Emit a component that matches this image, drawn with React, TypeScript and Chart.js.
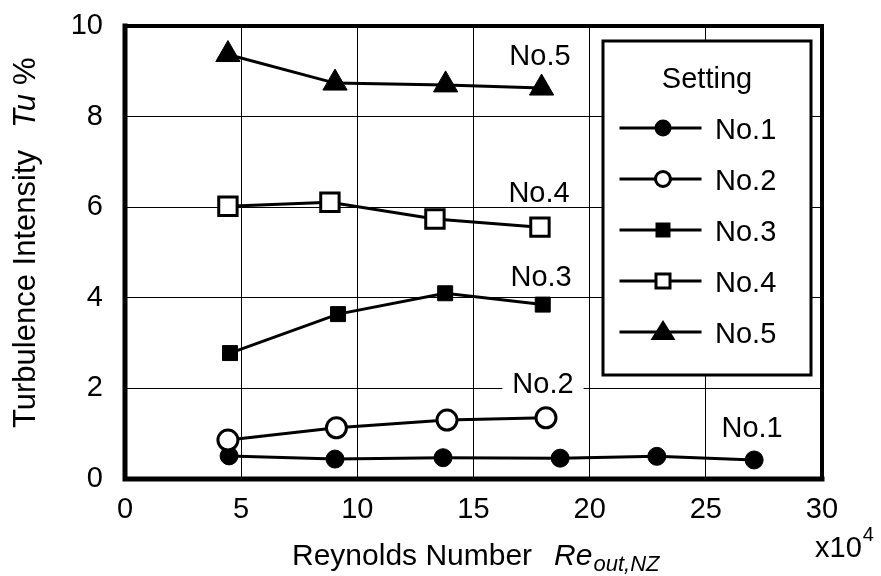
import React, { useEffect, useRef } from 'react';
import { Chart, registerables } from 'chart.js';

Chart.register(...registerables);

// ---- data (Re_out,NZ in units of 10^4, Tu in %) ----
const reNo1 = [4.48, 9.04, 13.69, 18.73, 22.89, 27.08];
const tuNo1 = [0.51, 0.44, 0.47, 0.46, 0.5, 0.42];
const reNo2 = [4.43, 9.1, 13.86, 18.12];
const tuNo2 = [0.86, 1.13, 1.3, 1.35];
const reNo3 = [4.52, 9.17, 13.78, 17.98];
const tuNo3 = [2.78, 3.64, 4.1, 3.85];
const reNo4 = [4.43, 8.82, 13.34, 17.86];
const tuNo4 = [6.02, 6.11, 5.74, 5.56];
const reNo5 = [4.43, 9.04, 13.8, 17.93];
const tuNo5 = [9.37, 8.74, 8.7, 8.63];

const seriesNames = ['No.1', 'No.2', 'No.3', 'No.4', 'No.5'];

const xTickValues = [0, 5, 10, 15, 20, 25, 30];
const yTickValues = [0, 2, 4, 6, 8, 10];

// in-plot labels anchored in data coordinates
const labelNames = ['No.1', 'No.2', 'No.3', 'No.4', 'No.5'];
const labelRe = [26.99, 17.99, 17.91, 17.82, 17.86];
const labelTu = [1.15, 2.14, 4.5, 6.34, 9.36];

const legendTitle = 'Setting';
const yTitleMain = 'Turbulence Intensity';
const yTitleSym = 'Tu';
const yTitleUnit = '%';
const xTitleMain = 'Reynolds Number';
const xTitleSym = 'Re';
const xTitleSub = 'out,NZ';
const xScaleNote = 'x10';
const xScaleExp = '4';

const FONT = "'Liberation Sans', Arial, Helvetica, sans-serif";

type Style = {
  pointStyle: any;
  radius: number;
  bg: string;
  bw: number;
};

const styles: Style[] = [
  { pointStyle: 'circle', radius: 9, bg: '#000', bw: 1 },
  { pointStyle: 'circle', radius: 10, bg: '#fff', bw: 3 },
  { pointStyle: 'rect', radius: 10.6, bg: '#000', bw: 1 },
  { pointStyle: 'rect', radius: 13, bg: '#fff', bw: 3 },
  { pointStyle: 'triangle', radius: 14, bg: '#000', bw: 1 },
];

function pair(xs: number[], ys: number[]) {
  return xs.map((x, i) => ({ x, y: ys[i] }));
}

function drawMarker(ctx: CanvasRenderingContext2D, idx: number, x: number, y: number) {
  ctx.save();
  ctx.strokeStyle = '#000';
  ctx.fillStyle = '#000';
  ctx.beginPath();
  if (idx === 0) {
    ctx.arc(x, y, 8.5, 0, Math.PI * 2);
    ctx.fill();
  } else if (idx === 1) {
    ctx.arc(x, y, 7.5, 0, Math.PI * 2);
    ctx.fillStyle = '#fff';
    ctx.fill();
    ctx.lineWidth = 3;
    ctx.stroke();
  } else if (idx === 2) {
    ctx.rect(x - 7.5, y - 7.5, 15, 15);
    ctx.fill();
  } else if (idx === 3) {
    ctx.rect(x - 7, y - 7, 14, 14);
    ctx.fillStyle = '#fff';
    ctx.fill();
    ctx.lineWidth = 3;
    ctx.stroke();
  } else {
    ctx.moveTo(x, y - 12);
    ctx.lineTo(x + 12.5, y + 8);
    ctx.lineTo(x - 12.5, y + 8);
    ctx.closePath();
    ctx.fill();
  }
  ctx.restore();
}

const decorPlugin = {
  id: 'decor',
  beforeDatasetsDraw(chart: any) {
    const ctx: CanvasRenderingContext2D = chart.ctx;
    const xs = chart.scales.x;
    const ys = chart.scales.y;
    ctx.save();
    ctx.font = `29px ${FONT}`;
    ctx.textAlign = 'center';
    ctx.textBaseline = 'alphabetic';
    labelNames.forEach((name, i) => {
      const px = xs.getPixelForValue(labelRe[i]);
      const py = ys.getPixelForValue(labelTu[i]);
      const w = ctx.measureText(name).width;
      ctx.fillStyle = '#fff';
      ctx.fillRect(px - w / 2 - 10, py - 14, w + 20, 28);
      ctx.fillStyle = '#000';
      ctx.fillText(name, px, py + 10.5);
    });
    ctx.restore();
  },
  afterDatasetsDraw(chart: any) {
    const ctx: CanvasRenderingContext2D = chart.ctx;
    const { left, right, top, bottom } = chart.chartArea;
    ctx.save();
    // frame
    ctx.strokeStyle = '#000';
    ctx.lineCap = 'square';
    ctx.lineWidth = 4;
    ctx.beginPath();
    ctx.moveTo(left, top);
    ctx.lineTo(right, top);
    ctx.lineTo(right, bottom);
    ctx.stroke();
    ctx.lineWidth = 5;
    ctx.beginPath();
    ctx.moveTo(left, top);
    ctx.lineTo(left, bottom);
    ctx.lineTo(right, bottom);
    ctx.stroke();

    // legend box
    const lx = 603, ly = 41, lw = 208, lh = 334;
    ctx.fillStyle = '#fff';
    ctx.fillRect(lx, ly, lw, lh);
    ctx.lineWidth = 3;
    ctx.strokeRect(lx, ly, lw, lh);
    ctx.fillStyle = '#000';
    ctx.font = `29px ${FONT}`;
    ctx.textAlign = 'center';
    ctx.textBaseline = 'alphabetic';
    ctx.fillText(legendTitle, 707, 88);
    ctx.textAlign = 'left';
    seriesNames.forEach((name, i) => {
      const yy = 128 + i * 51;
      ctx.lineWidth = 3;
      ctx.beginPath();
      ctx.moveTo(621, yy);
      ctx.lineTo(700, yy);
      ctx.stroke();
      drawMarker(ctx, i, 663, yy);
      ctx.fillStyle = '#000';
      ctx.fillText(name, 715, yy + 10.5);
    });

    // y-axis title (rotated)
    ctx.save();
    ctx.translate(35, 428);
    ctx.rotate(-Math.PI / 2);
    ctx.font = `31px ${FONT}`;
    ctx.textAlign = 'left';
    ctx.fillText(yTitleMain, 0, 0);
    const w1 = ctx.measureText(yTitleMain).width;
    ctx.font = `italic 31px ${FONT}`;
    ctx.fillText(yTitleSym, w1 + 22, 0);
    const w2 = ctx.measureText(yTitleSym).width;
    ctx.font = `31px ${FONT}`;
    ctx.fillText(yTitleUnit, w1 + 22 + w2 + 9, 0);
    ctx.restore();

    // x-axis title
    ctx.font = `30px ${FONT}`;
    ctx.textAlign = 'left';
    ctx.fillText(xTitleMain, 292, 565);
    const wx = ctx.measureText(xTitleMain).width;
    ctx.font = `italic 30px ${FONT}`;
    const reX = 292 + wx + 22;
    ctx.fillText(xTitleSym, reX, 565);
    const wr = ctx.measureText(xTitleSym).width;
    ctx.font = `italic 22px ${FONT}`;
    ctx.fillText(xTitleSub, reX + wr + 1, 571);

    // x10^4
    ctx.font = `29px ${FONT}`;
    ctx.fillText(xScaleNote, 815, 557);
    const wn = ctx.measureText(xScaleNote).width;
    ctx.font = `20px ${FONT}`;
    ctx.fillText(xScaleExp, 815 + wn + 1, 541);
    ctx.restore();
  },
};

export default function App() {
  const ref = useRef<HTMLCanvasElement | null>(null);
  useEffect(() => {
    if (!ref.current) return;
    const seriesRe = [reNo1, reNo2, reNo3, reNo4, reNo5];
    const seriesTu = [tuNo1, tuNo2, tuNo3, tuNo4, tuNo5];
    const drawOrder = [1, 0, 2, 3, 4];
    const datasets = seriesNames.map((name, i) => ({
      label: name,
      data: pair(seriesRe[i], seriesTu[i]),
      borderColor: '#000',
      borderWidth: 3,
      backgroundColor: styles[i].bg,
      pointStyle: styles[i].pointStyle,
      pointRadius: styles[i].radius,
      pointBackgroundColor: styles[i].bg,
      pointBorderColor: '#000',
      pointBorderWidth: styles[i].bw,
      pointHoverRadius: styles[i].radius,
      tension: 0,
      fill: false,
      clip: false as any,
      order: drawOrder[i],
    }));
    const chart = new Chart(ref.current, {
      type: 'line',
      data: { datasets },
      options: {
        responsive: false,
        animation: false,
        devicePixelRatio: 1,
        layout: { padding: { top: 26, right: 59, left: 0, bottom: 0 } },
        plugins: {
          legend: { display: false },
          tooltip: { enabled: false },
          title: { display: false },
        },
        scales: {
          x: {
            type: 'linear',
            min: 0,
            max: 30,
            afterBuildTicks: (s: any) => {
              s.ticks = xTickValues.map((v) => ({ value: v }));
            },
            ticks: {
              color: '#000',
              font: { family: FONT, size: 29 },
              padding: 14,
              maxRotation: 0,
              autoSkip: false,
            },
            grid: { color: '#000', lineWidth: 1, drawTicks: false },
            border: { display: false },
            afterFit: (s: any) => {
              s.height = 97;
              s.paddingLeft = 0;
              s.paddingRight = 0;
            },
          },
          y: {
            type: 'linear',
            min: 0,
            max: 10,
            afterBuildTicks: (s: any) => {
              s.ticks = yTickValues.map((v) => ({ value: v }));
            },
            ticks: {
              color: '#000',
              font: { family: FONT, size: 29 },
              padding: 22,
              autoSkip: false,
            },
            grid: { color: '#000', lineWidth: 1, drawTicks: false },
            border: { display: false },
            afterFit: (s: any) => {
              s.width = 125;
              s.paddingTop = 0;
              s.paddingBottom = 0;
            },
          },
        },
      },
      plugins: [decorPlugin],
    });
    return () => chart.destroy();
  }, []);
  return (
    <div style={{ position: 'absolute', left: 0, top: 0, width: 881, height: 576, background: '#fff' }}>
      <canvas ref={ref} width={881} height={576} style={{ width: 881, height: 576 }} />
    </div>
  );
}
